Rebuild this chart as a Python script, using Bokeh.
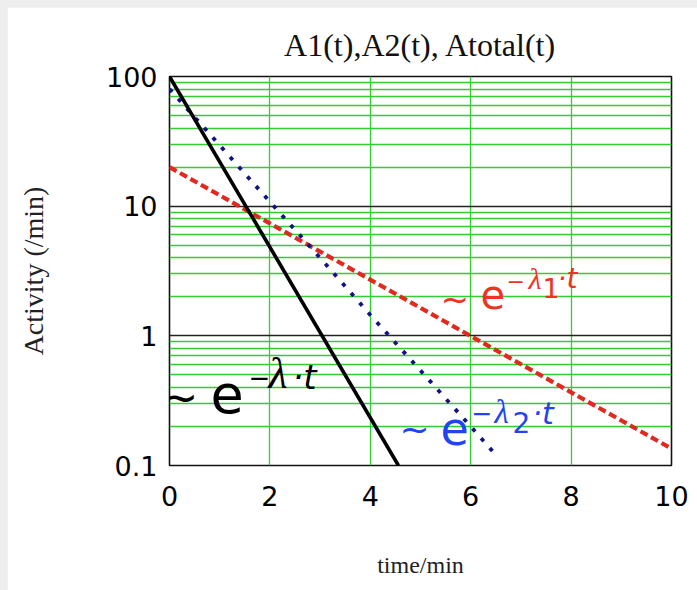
from bokeh.plotting import figure
from bokeh.models import Range1d, Label, FixedTicker
from bokeh.layouts import column
from bokeh.embed import file_html
from bokeh.resources import INLINE

# ---- data ----
t_total = [0.0, 4.56]
a_total = [100.0, 0.1]

t_a1 = [0.0, 10.0]
a_a1 = [20.0, 0.135]

t_a2 = [0.0, 1.0, 2.0, 3.0, 4.0, 5.0, 6.0, 6.55]
a_a2 = [80.0, 29.5, 10.8, 4.0, 1.45, 0.54, 0.2, 0.115]

x_ticks = [0, 2, 4, 6, 8, 10]
y_ticks = [0.1, 1, 10, 100]
y_minor = [m * d for d in (0.1, 1, 10) for m in (2, 3, 4, 5, 6, 7, 8, 9)]
y_tick_labels = {0.1: "0.1", 1: "1", 10: "10", 100: "100"}

title_text = "A1(t),A2(t), Atotal(t)"
x_label = "time/min"
y_label = "Activity (/min)"

# ---- layout geometry (page pixels) ----
PAD = 7
L, R, T, B = 169, 671, 76, 465
W, H = 697, 590

p = figure(width=W - PAD, height=H - PAD,
           x_range=Range1d(0, 10), y_range=Range1d(0.1, 100),
           y_axis_type="log", output_backend="svg", toolbar_location=None,
           min_border_left=L - PAD, min_border_right=W - R,
           min_border_top=T - PAD, min_border_bottom=H - B,
           title=title_text)
p.margin = (PAD, 0, 0, PAD)

p.title.align = "center"
p.title.text_font = "Liberation Serif"
p.title.text_font_style = "normal"
p.title.text_font_size = "32px"
p.title.text_color = "#111111"
p.title.standoff = 28

p.background_fill_color = "white"
p.border_fill_color = "white"
p.outline_line_color = "#111111"
p.outline_line_width = 1.6

GREEN = "#33cc33"
p.xaxis.ticker = FixedTicker(ticks=x_ticks)
p.xgrid.ticker = FixedTicker(ticks=x_ticks)
p.xgrid.grid_line_color = GREEN
p.xgrid.grid_line_width = 1.3

p.yaxis.ticker = FixedTicker(ticks=y_ticks, minor_ticks=y_minor)
p.ygrid.ticker = FixedTicker(ticks=y_ticks, minor_ticks=y_minor)
p.ygrid.grid_line_color = "#222222"
p.ygrid.grid_line_width = 1.3
p.ygrid.minor_grid_line_color = GREEN
p.ygrid.minor_grid_line_width = 1.3
p.yaxis.major_label_overrides = y_tick_labels

for ax in (p.xaxis[0], p.yaxis[0]):
    ax.axis_line_color = None
    ax.major_tick_line_color = None
    ax.minor_tick_line_color = None
    ax.major_label_text_font = "DejaVu Sans"
    ax.major_label_text_font_size = "27px"
    ax.major_label_text_color = "#000000"
    ax.axis_label_text_font = "Liberation Serif"
    ax.axis_label_text_font_style = "normal"
    ax.axis_label_text_color = "#222222"

p.xaxis.major_label_standoff = 14
p.yaxis.major_label_standoff = 6
p.xaxis.axis_label = x_label
p.xaxis.axis_label_text_font_size = "24px"
p.xaxis.axis_label_standoff = 43
p.yaxis.axis_label = y_label
p.yaxis.axis_label_text_font_size = "28px"
p.yaxis.axis_label_standoff = 54

# ---- curves ----
p.line(t_a1, a_a1, line_color="#e02a20", line_width=4.2, line_dash="8 4")
p.line(t_a2, a_a2, line_color="#121283", line_width=3.8, line_dash="4 9",
       line_cap="butt")
p.line(t_total, a_total, line_color="#000000", line_width=3.6)

# ---- formula labels ----
def to_data(px, py):
    x = (px - L) / (R - L) * 10.0
    y = 10 ** (-1 + (B - py) / (B - T) * 3.0)
    return x, y

def piece(text, px, py, color, size, font="DejaVu Sans", style="normal"):
    # py: wanted baseline (page px); Label draws ~0.35 em lower, so correct
    x, y = to_data(px, py - 0.35 * size)
    p.add_layout(Label(x=x, y=y, text=text, text_color=color,
                       text_font=font, text_font_style=style,
                       text_font_size=f"{size}px", text_baseline="alphabetic",
                       text_align="left"))

BLK, RED, BLU = "#000000", "#ee3322", "#2244ee"
# black: ~ e^{-λ·t}
piece("~", 161, 412, BLK, 44)
piece("e", 210, 412, BLK, 54)
piece("\u2212", 248, 386, BLK, 26)
piece("\u03bb", 268, 388, BLK, 44, "Liberation Serif", "italic")
piece("\u00b7t", 292, 388, BLK, 34, "DejaVu Sans", "italic")
# red: ~ e^{-λ1·t}
piece("~", 440, 310, RED, 34)
piece("e", 480, 307, RED, 40)
piece("\u2212", 506, 288, RED, 22)
piece("\u03bb", 528, 288, RED, 30, "Liberation Serif", "italic")
piece("1", 542, 297, RED, 27)
piece("\u00b7t", 557, 288, RED, 28, "DejaVu Sans", "italic")
# blue: ~ e^{-λ2·t}
piece("~", 399, 442, BLU, 36)
piece("e", 440, 444, BLU, 46)
piece("\u2212", 471, 421, BLU, 25)
piece("\u03bb", 494, 423, BLU, 33, "Liberation Serif", "italic")
piece("2", 512, 432, BLU, 28)
piece("\u00b7t", 532, 423, BLU, 30, "DejaVu Sans", "italic")

layout = column(p, styles={"background-color": "#eeeeee"})
open("out.html", "w").write(file_html(layout, INLINE))
